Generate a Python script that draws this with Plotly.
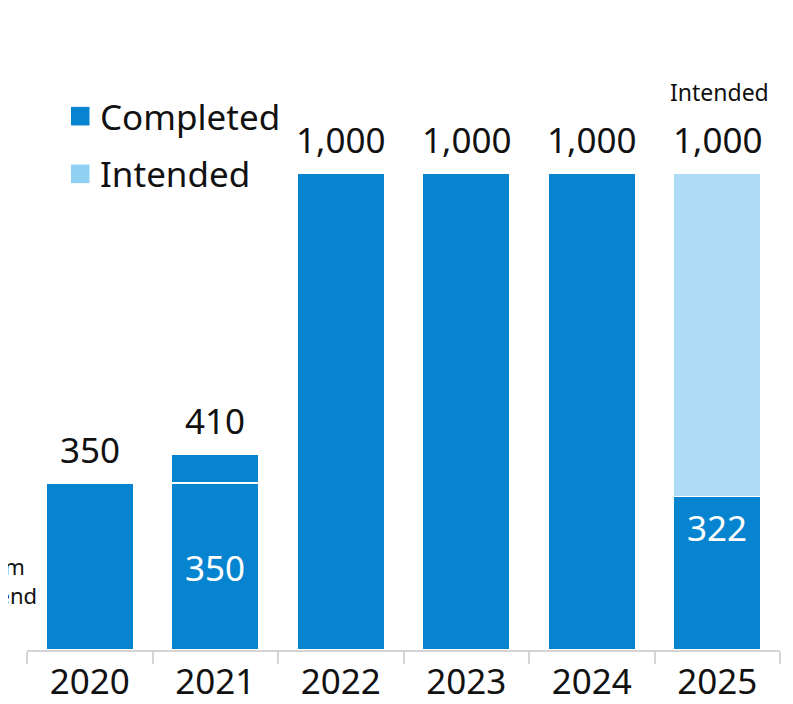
import plotly.graph_objects as go

years = ["2020", "2021", "2022", "2023", "2024", "2025"]
base_completed = [350, 350, 1000, 1000, 1000, 322]
extra_completed = [0, 60, 0, 0, 0, 0]
intended = [0, 0, 0, 0, 0, 678]
total_labels = ["350", "410", "1,000", "1,000", "1,000", "1,000"]
inner_labels = {"2021": "350", "2025": "322"}
legend_names = ["Completed", "Intended"]

DARK = "#0784d0"
LIGHT = "#aedcf6"
LEG_LIGHT = "#8fd0f3"
FONT = "Noto Sans"
BIG = 35

totals = [a + b + c for a, b, c in zip(base_completed, extra_completed, intended)]

fig = go.Figure()
fig.add_trace(go.Bar(x=years, y=base_completed, name=legend_names[0],
                     marker=dict(color=DARK, line=dict(color="white", width=1.5))))
fig.add_trace(go.Bar(x=years, y=extra_completed, name="extra",
                     marker=dict(color=DARK, line=dict(color="white", width=1.5))))
fig.add_trace(go.Bar(x=years, y=intended, name=legend_names[1],
                     marker=dict(color=LIGHT, line=dict(color="white", width=1.5))))

# annotations on a category axis use the category index
for i, (tot, lab) in enumerate(zip(totals, total_labels)):
    fig.add_annotation(x=i, y=tot, text=lab, showarrow=False, yanchor="middle", yshift=34,
                       font=dict(size=BIG, color="#111111", family=FONT))

fig.add_annotation(x=len(years) - 1, y=totals[-1], text="Intended", showarrow=False, yanchor="middle",
                   yshift=81, xshift=2, font=dict(size=23, color="#111111", family=FONT))

for yr, lab in inner_labels.items():
    i = years.index(yr)
    if yr == "2021":
        fig.add_annotation(x=i, y=base_completed[i] / 2, text=lab, showarrow=False, yanchor="middle",
                           yshift=-1, font=dict(size=BIG, color="white", family=FONT))
    else:
        fig.add_annotation(x=i, y=base_completed[i], text=lab, showarrow=False, yanchor="middle",
                           yshift=-31, font=dict(size=BIG, color="white", family=FONT))

# clipped side label
fig.add_annotation(xref="paper", yref="y", x=-0.1072, y=145, text="Interim<br>dividend", showarrow=False,
                   xanchor="left", yanchor="middle", align="left",
                   font=dict(size=22, color="#111111", family=FONT))

# manual legend
leg_colors = [DARK, LEG_LIGHT]
leg_y = [0.861, 0.768]
for name, col, yy in zip(legend_names, leg_colors, leg_y):
    fig.add_shape(type="rect", xref="paper", yref="paper", x0=0.0584, x1=0.0830, y0=yy - 0.015, y1=yy + 0.015,
                  fillcolor=col, line=dict(width=0))
    fig.add_annotation(xref="paper", yref="paper", x=0.0940, y=yy, text=name, showarrow=False,
                       xanchor="left", yanchor="middle", font=dict(size=BIG, family=FONT, color="#111111"))

fig.update_layout(
    width=793, height=704,
    margin=dict(l=18.7, r=21.3, t=22, b=62),
    paper_bgcolor="white", plot_bgcolor="white",
    barmode="stack", bargap=0.305,
    showlegend=False,
    xaxis=dict(type="category", categoryorder="array", categoryarray=years, range=[-0.5, 5.5],
               tickangle=0, automargin=False,
               showline=True, linecolor="#d4d4d4", linewidth=1.5, ticks="outside",
               tickson="boundaries", ticklen=12, tickcolor="#d4d4d4", tickwidth=1.5,
               tickfont=dict(size=BIG, family=FONT, color="#111111"), showgrid=False),
    yaxis=dict(range=[0, 1300], visible=False, showgrid=False),
)

fig.write_html("out.html")
